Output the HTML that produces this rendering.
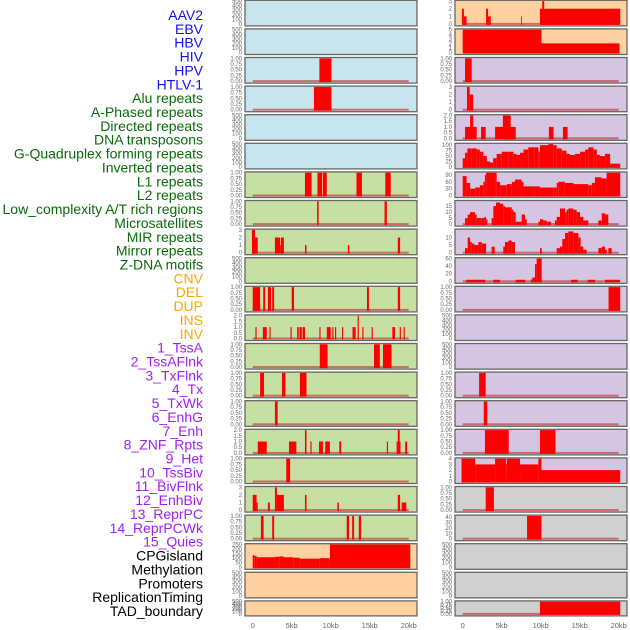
<!DOCTYPE html>
<html><head><meta charset="utf-8"><style>
html,body{margin:0;padding:0;background:#fff;}
svg{display:block;font-family:"Liberation Sans",sans-serif;}
</style></head><body>
<svg id="chart" width="630" height="630" viewBox="0 0 630 630" xmlns="http://www.w3.org/2000/svg"></svg>
<script>
// ---- labels ----
const trackLabels = ["AAV2","EBV","HBV","HIV","HPV","HTLV-1","Alu repeats","A-Phased repeats","Directed repeats","DNA transposons","G-Quadruplex forming repeats","Inverted repeats","L1 repeats","L2 repeats","Low_complexity A/T rich regions","Microsatellites","MIR repeats","Mirror repeats","Z-DNA motifs","CNV","DEL","DUP","INS","INV","1_TssA","2_TssAFlnk","3_TxFlnk","4_Tx","5_TxWk","6_EnhG","7_Enh","8_ZNF_Rpts","9_Het","10_TssBiv","11_BivFlnk","12_EnhBiv","13_ReprPC","14_ReprPCWk","15_Quies","CPGisland","Methylation","Promoters","ReplicationTiming","TAD_boundary"];
const labelGroups = [6,13,5,15,5];
const xTicks = [0,5,10,15,20];
const xTickLabels = ["0","5kb","10kb","15kb","20kb"];
const T500=[0,100,200,300,400,500], T1=[0,0.25,0.5,0.75,1], T3=[0,1,2,3], T2=[0,0.5,1,1.5,2];
// ---- left column segment data [startKb,endKb,value] ----
const L03=[[8.55,10.1,1]];
const L04=[[7.85,10.1,1]];
const L07=[[6.7,7.55,1],[8.3,8.9,1],[9.0,9.5,1],[13.3,14.0,1],[17.0,17.7,1]];
const L08=[[8.25,8.45,1],[16.9,17.2,1]];
const L09=[[0,0.65,2],[-0.1,0.3,3],[2.85,3.5,2],[3.5,3.6,1],[3.6,4.0,2],[6.7,6.9,1],[12.2,12.4,1],[18.6,18.9,2]];
const L11=[[0,0.95,1],[1.35,1.6,1],[1.95,2.35,1],[2.5,2.75,1],[5.0,5.3,1],[14.65,14.9,1],[18.6,18.9,1]];
const L12=[[0.35,0.5,1],[1.3,1.8,1],[2.15,2.3,1],[4.85,5.0,1],[5.7,5.9,1],[6.0,6.3,1],[6.4,6.7,1],[8.55,8.7,1],[9.5,10.0,1],[10.2,10.35,1],[10.55,10.7,1],[11.45,11.6,1],[12.8,13.2,1],[13.45,13.6,2],[14.05,14.2,1],[15.25,15.4,1],[17.9,18.25,1],[18.85,19.0,1],[19.35,19.5,1]];
const L13=[[8.6,9.6,1],[15.55,16.3,1],[16.7,17.8,1]];
const L14=[[0.95,1.45,1],[3.75,4.2,1],[6.05,6.9,1]];
const L15=[[2.85,3.2,1]];
const L16=[[0.65,1.8,1],[4.65,5.6,1],[6.7,6.9,2],[7.4,7.55,1],[8.5,9.0,1],[9.3,9.9,1],[11.1,11.35,1],[17.2,17.35,1],[18.45,18.95,1],[18.6,18.85,2],[19.55,19.8,1]];
const L17=[[4.3,4.8,1]];
const L18=[[0,0.5,2],[0.5,0.65,1],[1.95,2.2,1],[2.85,3.1,3],[3.1,4.0,2],[6.7,6.9,2],[10.85,11.05,1],[18.6,18.9,2],[19.1,19.7,1]];
const L19=[[1.05,1.4,1],[2.5,2.75,1],[12.05,12.35,1],[12.75,13.0,1],[13.6,13.9,1]];
const L20prof=[[0,135],[0.2,125],[0.5,110],[2.85,115],[3.4,120],[3.95,110],[5.2,105],[6.05,95],[8.6,100],[9.9,250],[20.2,0]];
// ---- right column ----
const R01=[[9.9,20.2,2],[10.2,10.45,3],[-0.1,0.15,2],[0.15,0.5,1],[3.0,3.25,2],[3.25,3.6,1],[7.5,7.6,1]];
const R02=[[0,10.1,5],[10.1,20.1,2]];
const R03=[[0.3,1.15,1]];
const R04=[[0.55,0.9,3],[0.9,1.35,2]];
const R05=[[0.3,1.8,1],[0.95,1.35,2],[2.35,2.95,1],[4.15,6.8,1],[5.15,6.15,2],[11.05,11.65,1],[12.85,13.45,1]];
const R06prof=[[0,40],[0.3,65],[0.6,85],[1.15,85],[1.8,80],[2.2,70],[2.65,50],[3.1,25],[3.5,20],[3.9,40],[4.35,60],[5.0,70],[5.85,70],[6.5,60],[6.9,55],[7.35,65],[7.8,80],[8.4,90],[9.25,90],[9.7,70],[9.9,100],[11.0,105],[11.6,100],[12.05,85],[12.7,75],[13.3,60],[13.75,55],[14.4,60],[15.05,70],[15.7,80],[16.1,90],[16.75,80],[17.2,55],[17.6,50],[18.25,60],[18.9,15],[20.2,0]];
const R07prof=[[0,85],[0.5,55],[0.95,30],[1.6,35],[2.2,45],[2.65,60],[2.85,90],[3.0,100],[4.15,100],[4.35,60],[4.8,45],[5.65,50],[6.3,60],[6.7,70],[7.55,60],[7.8,40],[9.25,40],[9.9,35],[11.6,35],[12.05,55],[12.25,60],[13.1,55],[14.2,50],[16.1,45],[16.55,55],[16.95,80],[17.8,75],[18.45,100],[20.2,0]];
const R08prof=[[0.3,5],[0.64,8],[0.94,10],[1.58,8],[1.79,5],[2.43,5],[2.77,6],[2.99,4],[3.16,0],[3.71,5],[3.93,15],[4.27,18],[4.78,17],[5.21,15],[5.42,14],[6.28,12],[6.5,10],[6.79,2],[7.35,2],[7.56,8],[7.99,4],[8.2,0],[9.7,2],[9.91,4],[10.34,3],[10.77,2],[11.32,0],[11.83,3],[12.05,6],[12.47,13],[13.12,10],[13.33,12],[13.54,13],[14.18,12],[14.61,10],[15.04,6],[15.47,3],[16.11,0],[17.39,3],[17.82,9],[18.25,8],[18.67,0]];
const R09prof=[[0.3,3],[0.64,10],[0.94,7],[1.16,6],[1.5,5],[2.0,7],[2.43,6],[3.0,0],[3.71,4],[4.1,0],[5.2,4],[5.42,7],[5.85,8],[6.3,7],[6.7,0],[9.91,3],[10.13,0],[12.05,3],[12.47,4],[12.77,9],[13.12,13],[13.54,14],[14.18,13],[14.83,10],[15.12,4],[15.47,2],[15.89,0],[17.39,3],[17.82,4],[18.25,2],[18.46,0],[18.67,3],[19.1,0]];
const R10prof=[[0.45,4],[2.9,0],[3.93,4],[4.78,0],[6.8,4],[8.0,0],[8.75,5],[8.93,10],[9.27,45],[9.48,60],[10.13,0],[13.88,4],[14.74,0],[16.02,4],[16.96,0],[18.25,4],[20.17,0]];
const R11=[[18.7,20.2,1]];
const R14=[[2.1,2.95,1]];
const R15=[[2.7,3.15,1]];
const R16=[[2.85,5.9,1],[9.9,11.9,1]];
const R17=[[-0.15,1.6,4],[1.6,4.15,3],[4.15,5.55,4],[5.55,5.65,3],[5.65,7.35,4],[7.35,9.7,3],[9.7,10.1,4],[10.1,20.2,2]];
const R18=[[2.95,4.0,1]];
const R19=[[8.25,10.1,42]];
const R22=[[9.9,20.2,1]];

function prof(p){const s=[];for(let i=0;i<p.length-1;i++){if(p[i][1]>0)s.push([p[i][0],p[i+1][0],p[i][1]]);}return s;}
const BLUE="#c8e4ec",GREEN="#c6e0a4",ORANGE="#ffd1a0",PURPLE="#d5c5e2",GREY="#d0d0d0";
// [bg, ticks, ymax, segs, baseline]
const leftPanels=[
[BLUE,T500,500,[],0],[BLUE,T500,500,[],0],[BLUE,T1,1,L03,1],[BLUE,T1,1,L04,1],[BLUE,T500,500,[],0],[BLUE,T500,500,[],0],
[GREEN,T1,1,L07,1],[GREEN,T1,1,L08,1],[GREEN,T3,3,L09,1],[GREEN,T500,500,[],0],[GREEN,T1,1,L11,1],[GREEN,T2,2,L12,1],[GREEN,T1,1,L13,1],[GREEN,T1,1,L14,1],[GREEN,T1,1,L15,1],[GREEN,T2,2,L16,1],[GREEN,T1,1,L17,1],[GREEN,T3,3,L18,1],[GREEN,T1,1,L19,1],
[ORANGE,[0,50,100,150,200,250],250,prof(L20prof),0],[ORANGE,T500,500,[],0],[ORANGE,T500,500,[],0]];
const rightPanels=[
[ORANGE,T3,3,R01,1],[ORANGE,[0,1,2,3,4,5],5,R02,0],
[PURPLE,T1,1,R03,1],[PURPLE,T3,3,R04,1],[PURPLE,T2,2,R05,1],[PURPLE,[0,25,50,75,100],105,prof(R06prof),0],[PURPLE,[0,30,60,90],100,prof(R07prof),0],[PURPLE,[0,5,10,15],19,prof(R08prof),1],[PURPLE,[0,5,10],15,prof(R09prof),1],[PURPLE,[0,20,40,60],60,prof(R10prof),1],[PURPLE,T1,1,R11,1],[PURPLE,T500,500,[],0],[PURPLE,T500,500,[],0],[PURPLE,T1,1,R14,1],[PURPLE,T1,1,R15,1],[PURPLE,T1,1,R16,1],[PURPLE,[0,1,2,3,4],4,R17,0],
[GREY,T1,1,R18,1],[GREY,[0,10,20,30,40],42,R19,1],[GREY,T500,500,[],0],[GREY,T500,500,[],0],[GREY,T1,1,R22,1]];

const NS="http://www.w3.org/2000/svg";
const svg=document.getElementById('chart');
function mk(t,a,p){const e=document.createElementNS(NS,t);for(const k in a)e.setAttribute(k,a[k]);(p||svg).appendChild(e);return e;}
function fmt(v,ticks){const mx=ticks[ticks.length-1];if(mx===1)return v.toFixed(2);if(mx===2)return v.toFixed(1);return String(v);}

// labels
const groupColors=["#1010ee","#0a6a0a","#ffa500","#a020f0","#000"];
let gi=0,cnt=0;
trackLabels.forEach((t,i)=>{
  while(cnt>=labelGroups[gi]){gi++;cnt=0;}cnt++;
  const e=mk('text',{x:203,y:15+i*13.86+5,'text-anchor':'end','font-size':14,fill:groupColors[gi]});
  e.textContent=t;
  
  
});

function drawColumn(panels,x0,kb0,col){
  const xs=kb=>kb0+7.8*kb;
  panels.forEach((p,i)=>{
    const top=0.3+i*28.6, h=(i===21)?15:25.6;
    const g=mk('g',{});
    
    
    mk('rect',{x:x0,y:top,width:172,height:h,fill:p[0]},g);
    const y0=top+h-2, yt=top+0.8;
    const ys=v=>y0-(v/p[2])*(y0-yt);
    if(p[4]){mk('rect',{x:xs(0),y:y0-1,width:xs(20)-xs(0),height:2,fill:'rgba(190,40,40,0.6)'},g);}
    p[3].forEach(s=>{
      const b=mk('rect',{x:xs(s[0]),y:ys(s[2]),width:Math.max(0.8,xs(s[1])-xs(s[0])),height:y0-ys(s[2])+1,fill:'#ff0000'},g);
      
      
    });
    mk('rect',{x:x0,y:top,width:172,height:h,fill:'none',stroke:'#666',"stroke-width":1.3},g);
    p[1].forEach(t=>{
      const tx=mk('text',{x:x0-3,y:ys(t)+2,'text-anchor':'end','font-size':6,fill:'#666'},g);
      tx.textContent=fmt(t,p[1]);
    });
  });
  xTicks.forEach((t,j)=>{
    const e=mk('text',{x:xs(t),y:628,'text-anchor':'middle','font-size':7.5,fill:'#666'});
    e.textContent=xTickLabels[j];
    
    
  });
}
drawColumn(leftPanels,245,252.7,'left');
drawColumn(rightPanels,455,462.7,'right');
</script>
</body></html>
